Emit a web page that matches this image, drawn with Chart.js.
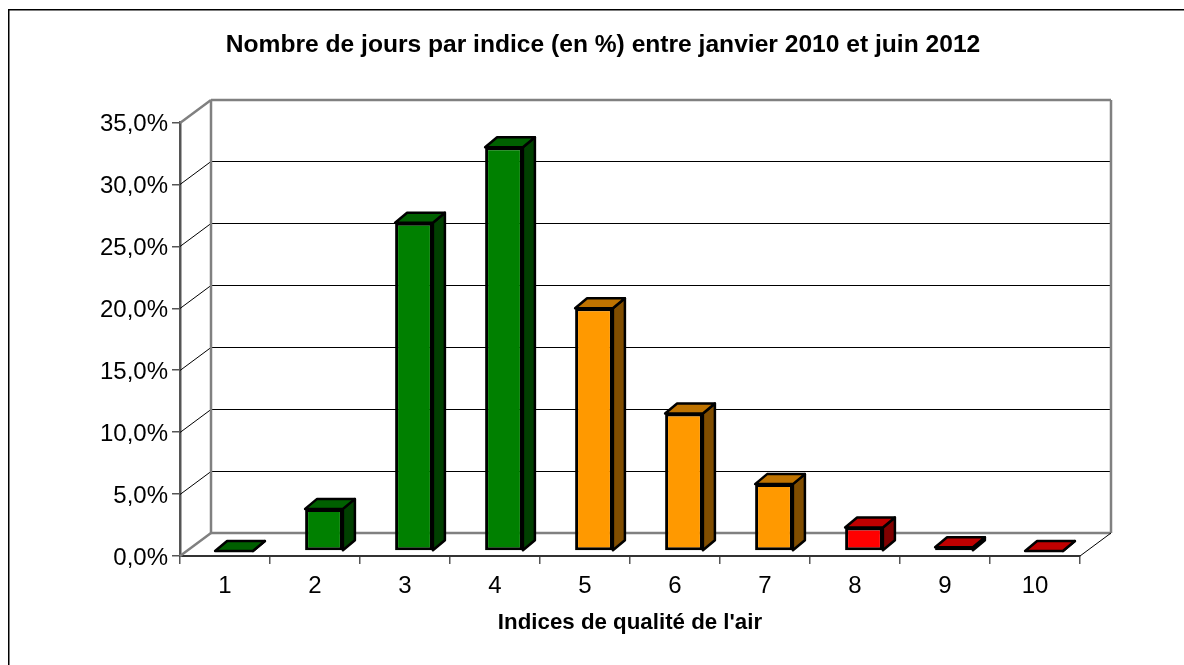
<!DOCTYPE html>
<html>
<head>
<meta charset="utf-8">
<script src="https://cdn.jsdelivr.net/npm/chart.js@4"></script>
<style>
  body { margin: 0; background: #fff; }
  canvas { display: block; }
</style>
</head>
<body>
<canvas id="indices" width="1184" height="665"></canvas>
<script>
// Data
const categories = ['1', '2', '3', '4', '5', '6', '7', '8', '9', '10'];
const pourcentages = [0, 3.4, 26.5, 32.6, 19.6, 11.1, 5.4, 1.9, 0.3, 0];

const faceColors = ['#008000', '#008000', '#008000', '#008000', '#ff9900', '#ff9900', '#ff9900', '#ff0000', '#ff0000', '#ff0000'];
const topColors = ['#006000', '#006000', '#006000', '#006000', '#bf7300', '#bf7300', '#bf7300', '#c00000', '#c00000', '#c00000'];
const sideColors = ['#004000', '#004000', '#004000', '#004000', '#804d00', '#804d00', '#804d00', '#800000', '#800000', '#800000'];

// 3D look: depth of the box and of each bar
const wallDx = 31, wallDy = -23;
const barDx = 9, barDy = -5;
const depthX = 12, depthY = -10;

function line(ctx, x1, y1, x2, y2, color, width) {
    ctx.strokeStyle = color;
    ctx.lineWidth = width;
    ctx.beginPath();
    ctx.moveTo(x1, y1);
    ctx.lineTo(x2, y2);
    ctx.stroke();
}

function poly(ctx, pts, fill) {
    ctx.fillStyle = fill;
    ctx.strokeStyle = '#000';
    ctx.lineWidth = 2.5;
    ctx.lineJoin = 'round';
    ctx.beginPath();
    pts.forEach((p, i) => i ? ctx.lineTo(p[0], p[1]) : ctx.moveTo(p[0], p[1]));
    ctx.closePath();
    ctx.fill();
    ctx.stroke();
}

const box3d = {
    id: 'box3d',
    afterLayout(chart) {
        // the title is centred on the page's frame, not on the plot
        chart.titleBlock.left = 126;
    },
    beforeDraw(chart) {
        const ctx = chart.ctx;
        ctx.save();
        // frame: only the top and left edges show
        line(ctx, 8.75, 665, 8.75, 9.75, '#000', 1.5);
        line(ctx, 8, 9.75, 1184, 9.75, '#000', 1.5);
        ctx.restore();
    },
    beforeDatasetsDraw(chart) {
        const ctx = chart.ctx;
        const y = chart.scales.y;
        const a = chart.chartArea;
        ctx.save();
        // gridlines on the back wall, with their diagonals on the side wall
        y.ticks.forEach(t => {
            const py = Math.round(y.getPixelForValue(t.value)) + 0.5;
            if (t.value > 0 && t.value < 35) {
                line(ctx, a.left, py, a.left + wallDx, py + wallDy, '#000', 1);
                line(ctx, a.left + wallDx, py + wallDy, a.right + wallDx, py + wallDy, '#000', 1);
            }
        });
        const gray = '#808080';
        const t = Math.round(a.top), b = Math.round(a.bottom);
        line(ctx, a.left, t, a.left + wallDx, t + wallDy, gray, 2.5);
        line(ctx, a.left + wallDx, t + wallDy, a.right + wallDx, t + wallDy, gray, 2.5);
        line(ctx, a.left + wallDx, t + wallDy, a.left + wallDx, b + wallDy, gray, 2.5);
        line(ctx, a.right + wallDx, t + wallDy, a.right + wallDx, b + wallDy, gray, 2.5);
        line(ctx, a.left + wallDx, b + wallDy, a.right + wallDx, b + wallDy, gray, 2.5);
        line(ctx, a.left, b, a.left + wallDx, b + wallDy, gray, 2.5);
        line(ctx, a.right, b, a.right + wallDx, b + wallDy, '#000', 1);
        ctx.restore();
    },
    beforeDatasetDraw(chart, args) {
        const ctx = chart.ctx;
        ctx.save();
        ctx.translate(barDx, barDy);
        args.meta.data.forEach((bar, i) => {
            const l = bar.x - bar.width / 2, r = bar.x + bar.width / 2;
            poly(ctx, [[r, bar.base], [r + depthX, bar.base + depthY], [r + depthX, bar.y + depthY], [r, bar.y]], sideColors[i]);
            poly(ctx, [[l, bar.y], [l + depthX, bar.y + depthY], [r + depthX, bar.y + depthY], [r, bar.y]], topColors[i]);
        });
    },
    afterDatasetDraw(chart) {
        chart.ctx.restore();
    }
};

new Chart(document.getElementById('indices'), {
    type: 'bar',
    data: {
        labels: categories,
        datasets: [{
            data: pourcentages,
            backgroundColor: faceColors,
            borderColor: '#000',
            borderWidth: 3,
            borderSkipped: false,
            barPercentage: 0.42,
            categoryPercentage: 1,
            clip: false
        }]
    },
    options: {
        responsive: false,
        animation: false,
        layout: { padding: { left: 0, right: 104, top: 0, bottom: 0 } },
        plugins: {
            legend: { display: false },
            tooltip: { enabled: false },
            title: {
                display: true,
                text: 'Nombre de jours par indice (en %) entre janvier 2010 et juin 2012',
                color: '#000',
                font: { family: 'Liberation Sans', size: 24.6, weight: 'bold' },
                padding: { top: 30, bottom: 63 },
                align: 'center'
            }
        },
        scales: {
            x: {
                afterFit: s => { s.height = 109; },
                grid: { drawOnChartArea: false, color: '#555', tickLength: 8, lineWidth: 1.5 },
                border: { color: '#333', width: 2 },
                ticks: { color: '#000', font: { family: 'Liberation Sans', size: 24 }, padding: 8, maxRotation: 0 },
                title: {
                    display: true,
                    text: "Indices de qualité de l'air",
                    color: '#000',
                    font: { family: 'Liberation Sans', size: 22.3, weight: 'bold' },
                    padding: { top: 10, bottom: 29 }
                }
            },
            y: {
                min: 0,
                max: 35,
                afterFit: s => { s.width = 180; },
                grid: { drawOnChartArea: false, color: '#555', tickLength: 8, lineWidth: 1.5 },
                border: { color: '#555', width: 2.5 },
                ticks: {
                    stepSize: 5,
                    color: '#000',
                    font: { family: 'Liberation Sans', size: 24 },
                    padding: 4,
                    labelOffset: 2,
                    callback: v => v.toFixed(1).replace('.', ',') + '%'
                }
            }
        }
    },
    plugins: [box3d]
});
</script>
</body>
</html>
